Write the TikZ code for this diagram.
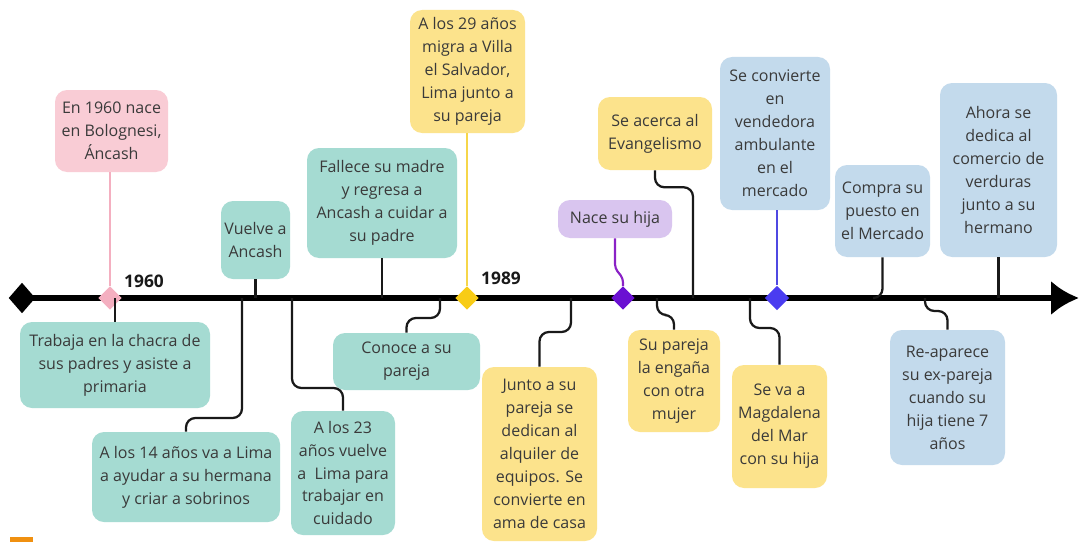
\documentclass[tikz,border=0pt]{standalone}
\usepackage{fontspec}
\setmainfont{Open Sans}
\usetikzlibrary{shapes.geometric,arrows.meta}
\definecolor{txt}{HTML}{3A3A3A}
\definecolor{tealc}{HTML}{A5DBD2}
\definecolor{yelc}{HTML}{FCE38C}
\definecolor{bluec}{HTML}{C3DAEC}
\definecolor{pinkc}{HTML}{F9CCD5}
\definecolor{purc}{HTML}{D9C5EF}
\definecolor{pinkl}{HTML}{F4AFC0}
\definecolor{yell}{HTML}{F6D64A}
\definecolor{yeld}{HTML}{F8CC16}
\definecolor{purl}{HTML}{8A22C6}
\definecolor{purd}{HTML}{6A10D2}
\definecolor{bluel}{HTML}{4F48E2}
\definecolor{blued}{HTML}{4A3CF0}
\definecolor{orangec}{HTML}{F09010}
\begin{document}
\begin{tikzpicture}[x=0.75pt,y=-0.75pt,
  box/.style={rounded corners=9pt, inner sep=0pt, align=center, text=txt,
    font=\fontsize{12}{17.2}\selectfont},
  tealb/.style={box, fill=tealc},
  yelb/.style={box, fill=yelc},
  blueb/.style={box, fill=bluec},
  pinkb/.style={box, fill=pinkc},
  purb/.style={box, fill=purc},
  bw/.style 2 args={minimum width=#1*0.75pt, minimum height=#2*0.75pt},
  conn/.style={draw=black!90, line width=1.7pt, rounded corners=7pt},
  mk/.style={diamond, shape aspect=1, inner sep=0pt, minimum size=17.5pt},
  yr/.style={font=\fontsize{13}{15}\selectfont\bfseries, text=black!90, inner sep=0pt}]
\fill[white] (0,0) rectangle (1080,542);
\useasboundingbox (0,0) rectangle (1080,542);

% boxes above
\node[pinkb, bw={113}{82}] (n1960) at (111.5,131) {En 1960 nace\\en Bolognesi,\\Áncash};
\node[tealb, bw={69}{78}] (vuelve) at (255.5,240) {Vuelve a\\Ancash};
\node[tealb, bw={150}{110}] (fallece) at (382,203) {Fallece su madre\\y regresa a\\Ancash a cuidar a\\su padre};
\node[yelb, bw={115}{123}] (n29) at (467.5,71.5) {A los 29 años\\migra a Villa\\el Salvador,\\Lima junto a\\su pareja};
\node[purb, bw={114}{38}] (hija) at (615,219) {Nace su hija};
\node[yelb, bw={114}{73}] (acerca) at (655,133.5) {Se acerca al\\Evangelismo};
\node[blueb, bw={110}{153}] (amb) at (775,133.5) {Se convierte\\en\\vendedora\\ambulante\\en el\\mercado};
\node[blueb, bw={95}{92}] (compra) at (882.5,211) {Compra su\\puesto en\\el Mercado};
\node[blueb, bw={117}{174}] (ahora) at (998.5,170) {Ahora se\\dedica al\\comercio de\\verduras\\junto a su\\hermano};

% boxes below
\node[tealb, bw={190}{86}] (trabaja) at (115,365) {Trabaja en la chacra de\\sus padres y asiste a\\primaria};
\node[tealb, bw={188}{90}] (a14) at (186,477) {A los 14 años va a Lima\\a ayudar a su hermana\\y criar a sobrinos};
\node[tealb, bw={104}{124}] (a23) at (343,473) {A los 23\\años vuelve\\a\ \ Lima para\\trabajar en\\cuidado};
\node[tealb, bw={147}{57}] (conoce) at (406.5,361.5) {Conoce a su\\pareja};
\node[yelb, bw={115}{174}] (junto) at (539.5,454) {Junto a su\\pareja se\\dedican al\\alquiler de\\equipos. Se\\convierte en\\ama de casa};
\node[yelb, bw={92}{102}] (supareja) at (674,381) {Su pareja\\la engaña\\con otra\\mujer};
\node[yelb, bw={95}{123}] (seva) at (779.5,426.5) {Se va a\\Magdalena\\del Mar\\con su hija};
\node[blueb, bw={115}{135}] (reap) at (947.5,397.5) {Re-aparece\\su ex-pareja\\cuando su\\hija tiene 7\\años};

% timeline
\coordinate (tl) at (0,298);
\node[diamond, fill=black, inner sep=0pt, minimum width=20pt, minimum height=23pt] (ls) at (22,298) {};
\coordinate (le) at (1079,298);
\draw[line width=4.5pt, -{Latex[length=21pt,width=26pt]}] (ls.center) -- (le);

% coordinates on the timeline
\coordinate (tEv) at (693,298);
\coordinate (tCompra) at (875,298);
\coordinate (t14) at (242,298);
\coordinate (t23) at (292,298);
\coordinate (tCon) at (440,298);
\coordinate (tJun) at (571,298);
\coordinate (tSu) at (657,298);
\coordinate (tSeva) at (750,298);
\coordinate (tRe) at (925,298);

% coloured markers
\node[mk, fill=pinkl] (m1960) at (110,298) {};
\node[mk, fill=yeld] (m1989) at (467,298) {};
\node[mk, fill=purd] (mhija) at (623,298) {};
\node[mk, fill=blued, minimum size=18.5pt] (mamb) at (777,298) {};
\draw[pinkl, line width=1.6pt] (n1960.south -| m1960) -- (m1960.north);
\draw[yell, line width=1.6pt] (n29.south -| m1989) -- (m1989.north);
\draw[purl, line width=1.6pt, rounded corners=3pt] (hija.south) -- ++(0,30) -- ++(8,10) -- (mhija.north);
\draw[bluel, line width=1.6pt] (amb.south -| mamb) -- (mamb.north);

% black connectors above
\draw[conn] (vuelve) -- (vuelve |- tl);
\draw[conn] (fallece) -- (fallece |- tl);
\draw[conn] (acerca.south) -- ++(0,17) -| (tEv);
\draw[conn] (compra.south) |- (tCompra);
\draw[conn] (ahora) -- (ahora |- tl);

% black connectors below
\draw[conn] (trabaja) -- (trabaja |- tl);
\draw[conn] (t14) -- ++(0,120) -| (a14.north);
\draw[conn] (t23) -- ++(0,90) -| (a23.north);
\draw[conn] (tCon) -- ++(0,20) -| (conoce.north);
\draw[conn] (tJun) -- ++(0,34) -| (junto.north);
\draw[conn] (tSu) -- ++(0,17) -| (supareja.north);
\draw[conn] (tSeva) -- ++(0,30) -| (seva.north);
\draw[conn] (tRe) -- ++(0,13) -| (reap.north);

% year labels
\node[yr] (y1960) at (144,281) {1960};
\node[yr] (y1989) at (501,278) {1989};

% small orange mark
\fill[orangec] (10,537) rectangle (33,542);
\end{tikzpicture}
\end{document}
